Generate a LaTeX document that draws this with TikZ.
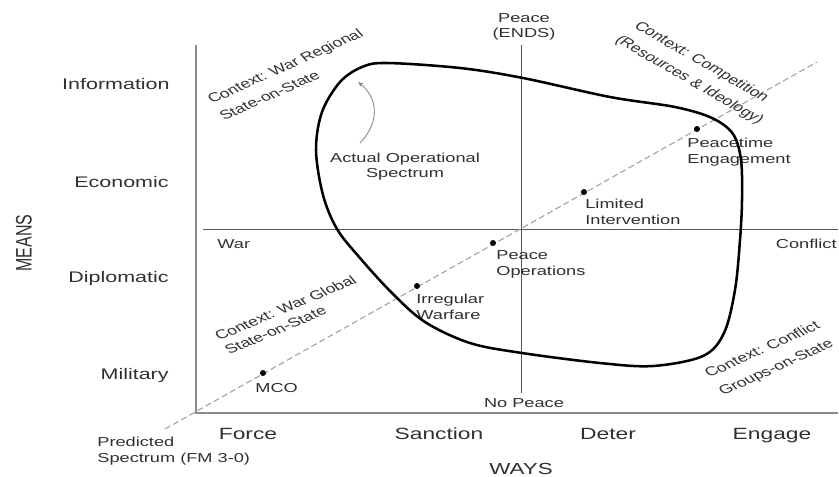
\documentclass[tikz,border=0pt]{standalone}
\usepackage{fontspec}
\setmainfont{Liberation Sans}
\usetikzlibrary{arrows.meta}
\definecolor{txt}{HTML}{303030}
\definecolor{axisgray}{HTML}{8C8C8C}
\definecolor{midline}{HTML}{555555}
\definecolor{dashgray}{HTML}{A0A0A0}

\begin{document}
\begin{tikzpicture}[x=0.75pt,y=-0.75pt,
  % all lettering is set wide
  lab/.style={xscale=1.4, text=txt, inner sep=0pt},
  meanslab/.style={lab, anchor=base east, font=\fontsize{11.5}{13}\selectfont},
  wayslab/.style={lab, anchor=base, font=\fontsize{12.2}{14}\selectfont},
  axistitle/.style={lab, font=\fontsize{12}{14}\selectfont},
  % multi-line labels are placed by the baseline of their last line
  ptlab/.style={lab, anchor=base west, align=left, font=\fontsize{9.75}{11.5}\selectfont},
  smalllab/.style={lab, align=center, font=\fontsize{9.75}{11.25}\selectfont},
  ctx/.style={lab, anchor=base west, font=\fontsize{9.5}{11}\selectfont},
  dot/.style={circle, fill=black, inner sep=0pt, minimum size=4.5pt},
  frameline/.style={draw=axisgray, line width=1.6pt},
  quadline/.style={draw=midline, line width=0.7pt},
  spectrum/.style={draw=dashgray, line width=0.8pt, dash pattern=on 4.5pt off 2.5pt},
  region/.style={draw=black, line width=1.9pt},
]
\useasboundingbox (0,0) rectangle (839,476);

% axes frame
\coordinate (ytop) at (196,45);
\coordinate (origin) at (196,413);
\coordinate (xend) at (838,413);
\draw[frameline] (ytop) -- (origin) -- (xend);

% quadrant lines
\coordinate (hl) at (203,229.5);
\coordinate (hr) at (838,229.5);
\coordinate (vt) at (521,45);
\coordinate (vb) at (521,393);
\draw[quadline] (hl) -- (hr);
\draw[quadline] (vt) -- (vb);

% means (vertical axis)
\node[meanslab] (info) at (170,89) {Information};
\node[meanslab] (econ) at (169,187) {Economic};
\node[meanslab] (dipl) at (169,282) {Diplomatic};
\node[meanslab] (mil) at (169,379) {Military};
\node[axistitle, rotate=90] (means) at (24,243) {MEANS};

% ways (horizontal axis)
\node[wayslab] (force) at (248,439) {Force};
\node[wayslab] (sanction) at (439,439) {Sanction};
\node[wayslab] (deter) at (608,439) {Deter};
\node[wayslab] (engage) at (772,439) {Engage};
\node[axistitle, anchor=base] (ways) at (521,474) {WAYS};

% quadrant labels
\node[smalllab] (peace) at (524,27) {Peace\\(ENDS)};
\node[smalllab, anchor=base] (nopeace) at (524,407) {No Peace};
\node[smalllab, anchor=base west] (war) at (217,248) {War};
\node[smalllab, anchor=base east] (conflict) at (837,248) {Conflict};

% predicted spectrum line and its points
\coordinate (sp0) at (165,429);
\coordinate (sp1) at (817,62);
\draw[spectrum] (sp0) -- (sp1);
\node[ptlab] (predicted) at (97,462) {Predicted\\Spectrum (FM 3-0)};

\node[dot] (mco) at (263,373) {};
\node[dot] (iw) at (417,286) {};
\node[dot] (po) at (493,243) {};
\node[dot] (li) at (584,192) {};
\node[dot] (pe) at (697,129) {};

\node[ptlab] (mcolab) at (255,392) {MCO};
\node[ptlab] (iwlab) at (416,319) {Irregular\\Warfare};
\node[ptlab] (polab) at (496,275) {Peace\\Operations};
\node[ptlab] (lilab) at (585,224) {Limited\\Intervention};
\node[ptlab] (pelab) at (687,163) {Peacetime\\Engagement};

% actual operational spectrum
\draw[region] plot[smooth cycle, tension=0.55] coordinates {
  (387,63) (460,68) (523,78) (610,97) (675,107) (712,118) (733,134)
  (741,160) (742,200) (740,240) (735,290) (724,333) (703,356)
  (653,366) (600,363) (522,353) (470,343) (425,322) (392,293)
  (360,258) (337,229) (323,195) (316,150) (322,112) (340,82) (362,67)
};

\node[smalllab, anchor=base] (aos) at (405,177) {Actual Operational\\Spectrum};
\coordinate (aostail) at (360,143);
\coordinate (aostip) at (358,82);
\draw[draw=gray, line width=0.6pt, -{Stealth[length=4pt, width=3pt]}]
  (aostail) .. controls (382,120) and (376,96) .. (aostip);

% contexts
\node[ctx, rotate=32] (ctxreg1) at (212,104) {Context: War Regional};
\node[ctx, rotate=32] (ctxreg2) at (224,121) {State-on-State};
\node[ctx, rotate=-39] (ctxcomp1) at (633,27) {Context: Competition};
\node[ctx, rotate=-39] (ctxcomp2) at (614,41) {(Resources \& Ideology)};
\node[ctx, rotate=30.5] (ctxglob1) at (219,341) {Context: War Global};
\node[ctx, rotate=30.5] (ctxglob2) at (229,355) {State-on-State};
\node[ctx, rotate=32] (ctxconf1) at (709,378) {Context: Conflict};
\node[ctx, rotate=32] (ctxconf2) at (723,396) {Groups-on-State};
\end{tikzpicture}
\end{document}
